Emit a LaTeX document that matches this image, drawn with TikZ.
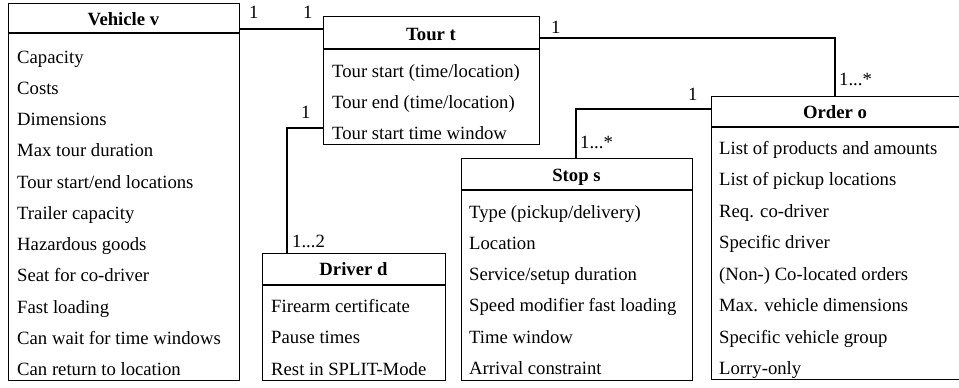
\documentclass[tikz,border=0pt]{standalone}
\usepackage{fontspec}
\setmainfont{Liberation Serif}
\begin{document}
\begin{tikzpicture}[x=1pt,y=-1pt,
  box/.style={draw,line width=1.4pt,rectangle,inner sep=0pt,anchor=north west},
  sep/.style={line width=1.4pt},
  conn/.style={line width=1.4pt},
  item/.style={anchor=base west,inner sep=0pt,font=\fontsize{18.7}{22}\selectfont},
  ttl/.style={anchor=base,inner sep=0pt,font=\fontsize{18.7}{22}\selectfont\bfseries},
  lab/.style={anchor=base west,inner sep=0pt,font=\fontsize{18.7}{22}\selectfont}]
\useasboundingbox (0,0) rectangle (959,388);
\clip (0,0) rectangle (959,388);
% Vehicle
\node[box,minimum width=231pt,minimum height=377pt] (veh) at (8,3) {};
\draw[sep] (8,33) -- (239,33);
\node[ttl] (vehT) at (123.5,25) {Vehicle v};
\foreach \t [count=\i] in {Capacity,Costs,Dimensions,Max tour duration,Tour start/end locations,Trailer capacity,Hazardous goods,Seat for co-driver,Fast loading,Can wait for time windows,Can return to location}
  \node[item] (veh-\i) at (17,{63+31.27*(\i-1)}) {\t};
% Tour
\node[box,minimum width=216pt,minimum height=128pt] (tour) at (323,16) {};
\draw[sep] (323,49) -- (539,49);
\node[ttl] (tourT) at (431,40) {Tour t};
\foreach \t [count=\i] in {Tour start (time/location),Tour end (time/location),Tour start time window}
  \node[item] (tour-\i) at (332,{77+31*(\i-1)}) {\t};
% Driver
\node[box,minimum width=183pt,minimum height=127pt] (drv) at (262,253) {};
\draw[sep] (262,285) -- (445,285);
\node[ttl] (drvT) at (353.5,275) {Driver d};
\foreach \t [count=\i] in {Firearm certificate,Pause times,Rest in SPLIT-Mode}
  \node[item] (drv-\i) at (271,{312+31.5*(\i-1)}) {\t};
% Stop
\node[box,minimum width=231pt,minimum height=222pt] (stop) at (461,158) {};
\draw[sep] (461,190) -- (692,190);
\node[ttl] (stopT) at (576.5,181) {Stop s};
\foreach \t [count=\i] in {Type (pickup/delivery),Location,Service/setup duration,Speed modifier fast loading,Time window,Arrival constraint}
  \node[item] (stop-\i) at (469,{218+31.3*(\i-1)}) {\t};
% Order
\node[box,minimum width=260pt,minimum height=283pt] (ord) at (711,96) {};
\draw[sep] (711,127) -- (971,127);
\node[ttl] (ordT) at (835,118) {Order o};
\foreach \t [count=\i] in {List of products and amounts,List of pickup locations,Req. co-driver,Specific driver,(Non-) Co-located orders,Max. vehicle dimensions,Specific vehicle group,Lorry-only}
  \node[item] (ord-\i) at (719,{154+31.5*(\i-1)}) {\t};
% connectors
\draw[conn] (veh.east |- 0,29) -- (tour.west |- 0,29);
\draw[conn] (tour.west |- 0,128) -- (287,128) -- (287,0 |- drv.north);
\draw[conn] (tour.east |- 0,38) -- (835,38) -- (835,0 |- ord.north);
\draw[conn] (ord.west |- 0,109) -- (576,109) -- (576,0 |- stop.north);
% multiplicities
\node[lab] (m1) at (249,18) {1};
\node[lab] (m2) at (303,18) {1};
\node[lab] (m3) at (301,118) {1};
\node[lab] (m4) at (292,247) {1...2};
\node[lab] (m5) at (551,33) {1};
\node[lab] (m6) at (839,85) {1...*};
\node[lab] (m7) at (688,100) {1};
\node[lab] (m8) at (580,148) {1...*};
\end{tikzpicture}
\end{document}
